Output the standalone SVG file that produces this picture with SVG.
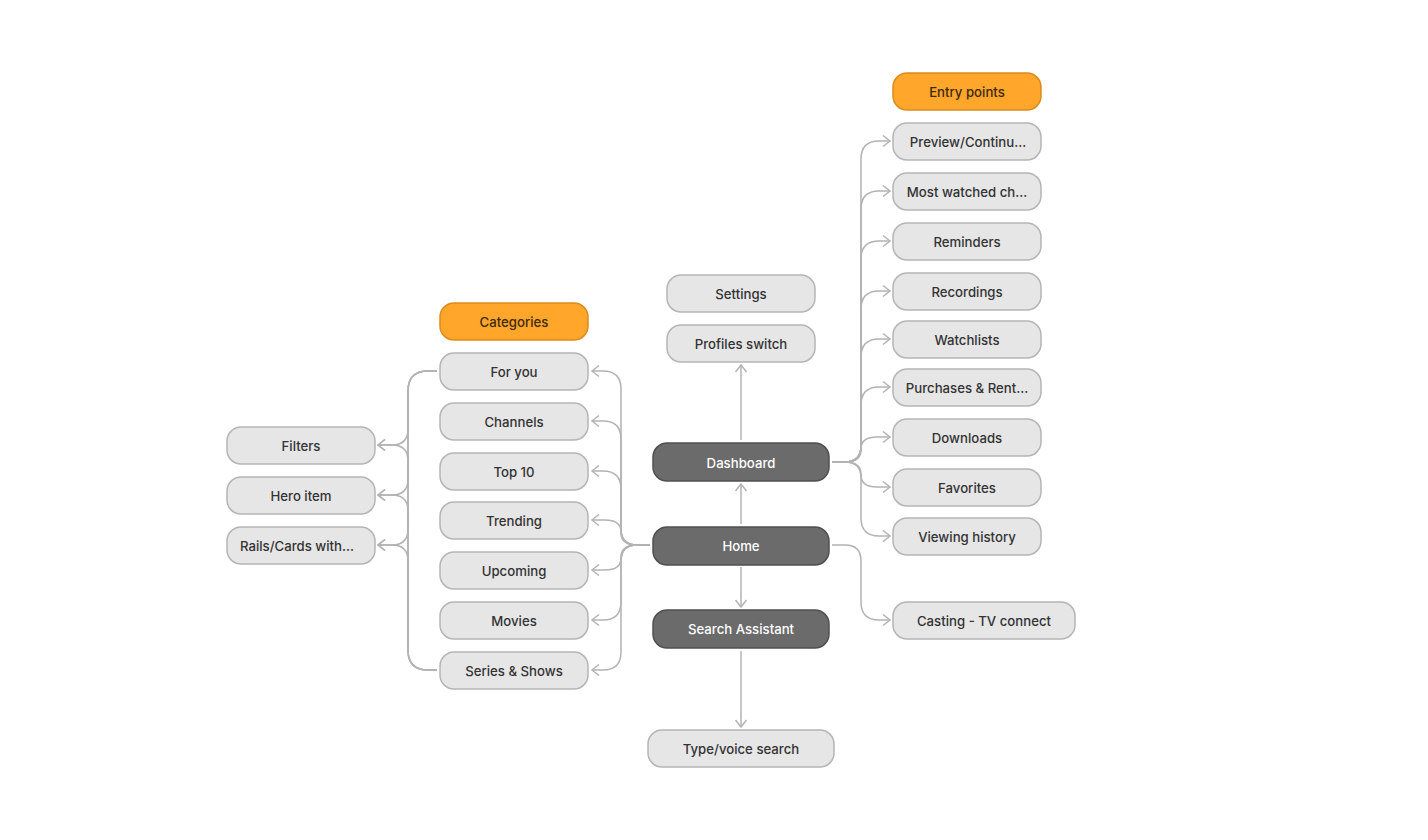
<svg xmlns="http://www.w3.org/2000/svg" width="1428" height="840" viewBox="0 0 1428 840">
<defs>
<style>
.n rect{fill:#e6e6e6;stroke:#b5b5b5;stroke-width:1.5}
.o rect{fill:#ffa62b;stroke:#db8c1c;stroke-width:1.5}
.d rect{fill:#6b6b6b;stroke:#505050;stroke-width:1.5}
text{font-family:Inter,"Noto Sans","Liberation Sans",sans-serif;font-size:13.2px;font-weight:500;text-anchor:middle;dominant-baseline:central;fill:#333}
.o text{fill:#3d2a10}
.d text{fill:#ffffff}
#connectors path{fill:none;stroke:#b3b3b3;stroke-width:1.5;marker-end:url(#arr)}
</style>
<marker id="arr" markerUnits="userSpaceOnUse" markerWidth="12" markerHeight="14" viewBox="-1 -1 12 14" refX="9" refY="6" orient="auto">
<path d="M2 0.5 L9 6 L2 11.5" fill="none" stroke="#b3b3b3" stroke-width="1.5"/>
</marker>
</defs>
<rect width="1428" height="840" fill="#ffffff"/>
<g id="connectors">
<path d="M741 524 V484"/>
<path d="M741 567 V607"/>
<path d="M741 440 V365"/>
<path d="M741 651 V727"/>
<path d="M650 545 H637 Q621 545 621 529 V389 Q621 371 603 371 H592"/>
<path d="M650 545 H637 Q621 545 621 529 V439 Q621 421 603 421 H592"/>
<path d="M650 545 H637 Q621 545 621 529 V489 Q621 471 603 471 H592"/>
<path d="M650 545 H637 Q621 545 621 533 V532 Q621 520 605 520 H592"/>
<path d="M650 545 H637 Q621 545 621 557 V558 Q621 570 605 570 H592"/>
<path d="M650 545 H637 Q621 545 621 561 V602 Q621 620 603 620 H592"/>
<path d="M650 545 H637 Q621 545 621 561 V652 Q621 670 603 670 H592"/>
<path d="M437 371 H428 Q408 371 408 391 V429 Q408 445 392 445 H378"/>
<path d="M437 371 H428 Q408 371 408 391 V479 Q408 495 392 495 H378"/>
<path d="M437 371 H428 Q408 371 408 391 V529 Q408 545 392 545 H378"/>
<path d="M437 670 H428 Q408 670 408 650 V461 Q408 445 392 445 H378"/>
<path d="M437 670 H428 Q408 670 408 650 V511 Q408 495 392 495 H378"/>
<path d="M437 670 H428 Q408 670 408 650 V561 Q408 545 392 545 H378"/>
<path d="M832 462 H845 Q861 462 861 446 V159 Q861 141 879 141 H890"/>
<path d="M832 462 H845 Q861 462 861 446 V209 Q861 191 879 191 H890"/>
<path d="M832 462 H845 Q861 462 861 446 V259 Q861 241 879 241 H890"/>
<path d="M832 462 H845 Q861 462 861 446 V309 Q861 291 879 291 H890"/>
<path d="M832 462 H845 Q861 462 861 446 V357 Q861 339 879 339 H890"/>
<path d="M832 462 H845 Q861 462 861 446 V405 Q861 387 879 387 H890"/>
<path d="M832 462 H845 Q861 462 861 450 V449 Q861 437 877 437 H890"/>
<path d="M832 462 H845 Q861 462 861 474 V475 Q861 487 877 487 H890"/>
<path d="M832 462 H845 Q861 462 861 478 V518 Q861 536 879 536 H890"/>
<path d="M832 545 H845 Q861 545 861 561 V602 Q861 620 879 620 H890"/>
</g>
<g id="n-categories" class="o"><rect x="440" y="303" width="148" height="37" rx="14"/><text x="514" y="321.5">Categories</text></g>
<g id="n-foryou" class="n"><rect x="440" y="353" width="148" height="37" rx="14"/><text x="514" y="371.5">For you</text></g>
<g id="n-channels" class="n"><rect x="440" y="403" width="148" height="37" rx="14"/><text x="514" y="421.5">Channels</text></g>
<g id="n-top10" class="n"><rect x="440" y="453" width="148" height="37" rx="14"/><text x="514" y="471.5">Top 10</text></g>
<g id="n-trending" class="n"><rect x="440" y="502" width="148" height="37" rx="14"/><text x="514" y="520.5">Trending</text></g>
<g id="n-upcoming" class="n"><rect x="440" y="552" width="148" height="37" rx="14"/><text x="514" y="570.5">Upcoming</text></g>
<g id="n-movies" class="n"><rect x="440" y="602" width="148" height="37" rx="14"/><text x="514" y="620.5">Movies</text></g>
<g id="n-series" class="n"><rect x="440" y="652" width="148" height="37" rx="14"/><text x="514" y="670.5">Series &amp; Shows</text></g>
<g id="n-filters" class="n"><rect x="227" y="427" width="148" height="37" rx="14"/><text x="301" y="445.5">Filters</text></g>
<g id="n-hero" class="n"><rect x="227" y="477" width="148" height="37" rx="14"/><text x="301" y="495.5">Hero item</text></g>
<g id="n-rails" class="n"><rect x="227" y="527" width="148" height="37" rx="14"/><text x="297" y="545.5">Rails/Cards with...</text></g>
<g id="n-settings" class="n"><rect x="667" y="275" width="148" height="37" rx="14"/><text x="741" y="293.5">Settings</text></g>
<g id="n-profiles" class="n"><rect x="667" y="325" width="148" height="37" rx="14"/><text x="741" y="343.5">Profiles switch</text></g>
<g id="n-dashboard" class="d"><rect x="653" y="443" width="176" height="38" rx="14"/><text x="741" y="462.5">Dashboard</text></g>
<g id="n-home" class="d"><rect x="653" y="527" width="176" height="38" rx="14"/><text x="741" y="545.5">Home</text></g>
<g id="n-search" class="d"><rect x="653" y="610" width="176" height="38" rx="14"/><text x="741" y="629">Search Assistant</text></g>
<g id="n-typevoice" class="n"><rect x="648" y="730" width="186" height="37" rx="14"/><text x="741" y="748.5">Type/voice search</text></g>
<g id="n-entry" class="o"><rect x="893" y="73" width="148" height="37" rx="14"/><text x="967" y="91.5">Entry points</text></g>
<g id="n-preview" class="n"><rect x="893" y="123" width="148" height="37" rx="14"/><text x="968" y="141.5">Preview/Continu...</text></g>
<g id="n-mostwatched" class="n"><rect x="893" y="173" width="148" height="37" rx="14"/><text x="967" y="191.5">Most watched ch...</text></g>
<g id="n-reminders" class="n"><rect x="893" y="223" width="148" height="37" rx="14"/><text x="967" y="241.5">Reminders</text></g>
<g id="n-recordings" class="n"><rect x="893" y="273" width="148" height="37" rx="14"/><text x="967" y="291.5">Recordings</text></g>
<g id="n-watchlists" class="n"><rect x="893" y="321" width="148" height="37" rx="14"/><text x="967" y="339.5">Watchlists</text></g>
<g id="n-purchases" class="n"><rect x="893" y="369" width="148" height="37" rx="14"/><text x="967" y="387.5">Purchases &amp; Rent...</text></g>
<g id="n-downloads" class="n"><rect x="893" y="419" width="148" height="37" rx="14"/><text x="967" y="437.5">Downloads</text></g>
<g id="n-favorites" class="n"><rect x="893" y="469" width="148" height="37" rx="14"/><text x="967" y="487.5">Favorites</text></g>
<g id="n-history" class="n"><rect x="893" y="518" width="148" height="37" rx="14"/><text x="967" y="536.5">Viewing history</text></g>
<g id="n-casting" class="n"><rect x="893" y="602" width="182" height="37" rx="14"/><text x="984" y="620.5">Casting - TV connect</text></g>
</svg>
